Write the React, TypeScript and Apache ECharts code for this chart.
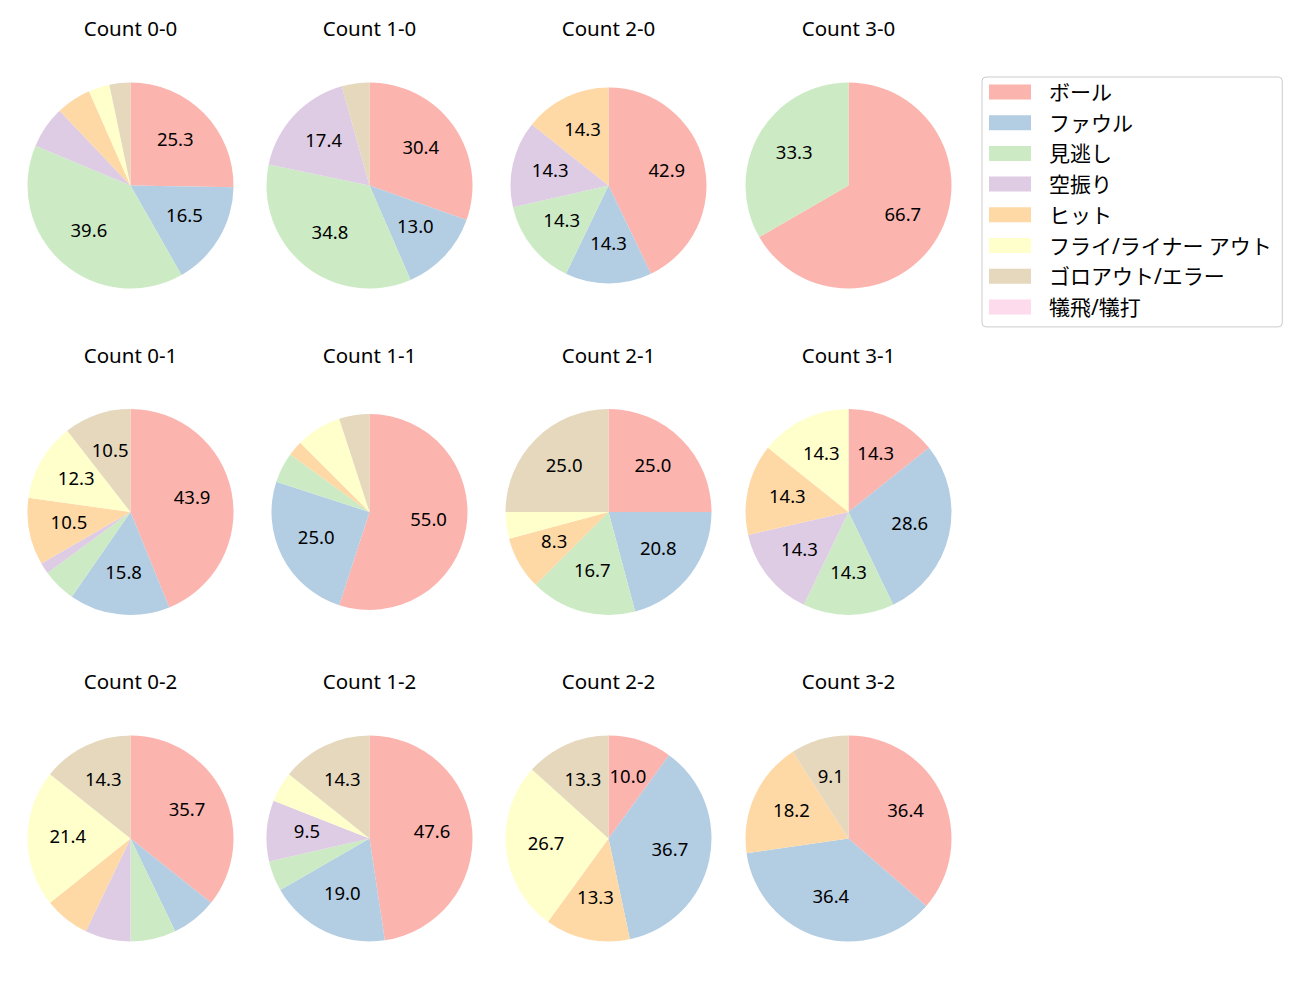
import React, { useEffect, useRef } from "react";
import * as echarts from "echarts";

const categories = [
  "ボール",
  "ファウル",
  "見逃し",
  "空振り",
  "ヒット",
  "フライ/ライナー アウト",
  "ゴロアウト/エラー",
  "犠飛/犠打",
];
const palette = ["#fbb4ae", "#b3cde3", "#ccebc5", "#decbe4", "#fed9a6", "#ffffcc", "#e5d8bd", "#fddaec"];

const titles = [
  "Count 0-0", "Count 1-0", "Count 2-0", "Count 3-0",
  "Count 0-1", "Count 1-1", "Count 2-1", "Count 3-1",
  "Count 0-2", "Count 1-2", "Count 2-2", "Count 3-2",
];

const count00 = [23, 15, 36, 6, 5, 3, 3, 0];
const count10 = [7, 3, 8, 4, 0, 0, 1, 0];
const count20 = [3, 1, 1, 1, 1, 0, 0, 0];
const count30 = [2, 0, 1, 0, 0, 0, 0, 0];
const count01 = [25, 9, 3, 1, 6, 7, 6, 0];
const count11 = [22, 10, 2, 0, 1, 3, 2, 0];
const count21 = [6, 5, 4, 0, 2, 1, 6, 0];
const count31 = [1, 2, 1, 1, 1, 1, 0, 0];
const count02 = [5, 1, 1, 1, 1, 3, 2, 0];
const count12 = [10, 4, 1, 2, 0, 1, 3, 0];
const count22 = [3, 11, 0, 0, 4, 8, 4, 0];
const count32 = [4, 4, 0, 0, 2, 0, 1, 0];

const allCounts = [
  count00, count10, count20, count30,
  count01, count11, count21, count31,
  count02, count12, count22, count32,
];

const colX = [130.5, 369.5, 608.5, 848.5];
const rowY = [185.5, 512, 838.5];
const radii = [103, 103, 98, 103, 103, 98, 103, 103, 103, 103, 103, 103];
const titleY = [27.5, 354.5, 680.5];

const FONT = "'Noto Sans', 'Noto Sans CJK JP', sans-serif";

export default function App() {
  const ref = useRef<HTMLDivElement>(null);
  useEffect(() => {
    document.body.style.margin = "0";
    const chart = echarts.init(ref.current!, null, { renderer: "svg" });
    const visible: any[] = [];
    const overlays: any[] = [];
    const graphics: any[] = [];
    allCounts.forEach((vals, i) => {
      const cx = colX[i % 4];
      const cy = rowY[Math.floor(i / 4)];
      const r = radii[i];
      const total = vals.reduce((a, b) => a + b, 0);
      const data = categories.map((name, k) => ({
        name,
        value: vals[k],
        itemStyle: { color: palette[k] },
      }));
      visible.push({
        type: "pie",
        center: [cx, cy],
        radius: r,
        startAngle: 90,
        clockwise: true,
        silent: true,
        label: { show: false },
        labelLine: { show: false },
        emphasis: { disabled: true },
        itemStyle: { borderWidth: 0 },
        data,
      });
      overlays.push({
        type: "pie",
        center: [cx, cy],
        radius: [r * 0.16, r],
        startAngle: 90,
        clockwise: true,
        silent: true,
        avoidLabelOverlap: false,
        itemStyle: { color: "rgba(0,0,0,0)", borderWidth: 0 },
        emphasis: { disabled: true },
        labelLine: { show: false },
        label: {
          show: true,
          position: "inside",
          color: "#000",
          fontSize: 18.5,
          fontFamily: FONT,
          offset: [0, -3],
          formatter: (p: any) => {
            const pct = (p.value / total) * 100;
            return pct >= 8 ? pct.toFixed(1) : "";
          },
        },
        data: categories.map((name, k) => ({ name, value: vals[k], itemStyle: { color: "rgba(0,0,0,0)" } })),
      });
      graphics.push({
        type: "text",
        x: cx,
        y: titleY[Math.floor(i / 4)],
        style: {
          text: titles[i],
          fill: "#000",
          fontSize: 20.5,
          fontFamily: FONT,
          textAlign: "center",
          textVerticalAlign: "middle",
        },
      });
    });
    chart.setOption({
      animation: false,
      backgroundColor: "#fff",
      legend: {
        orient: "vertical",
        left: 982,
        top: 77,
        data: categories,
        icon: "rect",
        itemWidth: 42,
        itemHeight: 15,
        itemGap: 9.7,
        selectedMode: false,
        padding: [4.5, 10, 9.5, 7],
        borderColor: "#cccccc",
        borderWidth: 1,
        borderRadius: 4,
        textStyle: {
          fontSize: 21,
          lineHeight: 21,
          color: "#000",
          fontFamily: FONT,
          padding: [0, 0, 0, 13],
        },
      },
      graphic: graphics,
      series: [...visible, ...overlays],
    });
    return () => chart.dispose();
  }, []);
  return <div ref={ref} style={{ width: 1300, height: 1000 }} />;
}
